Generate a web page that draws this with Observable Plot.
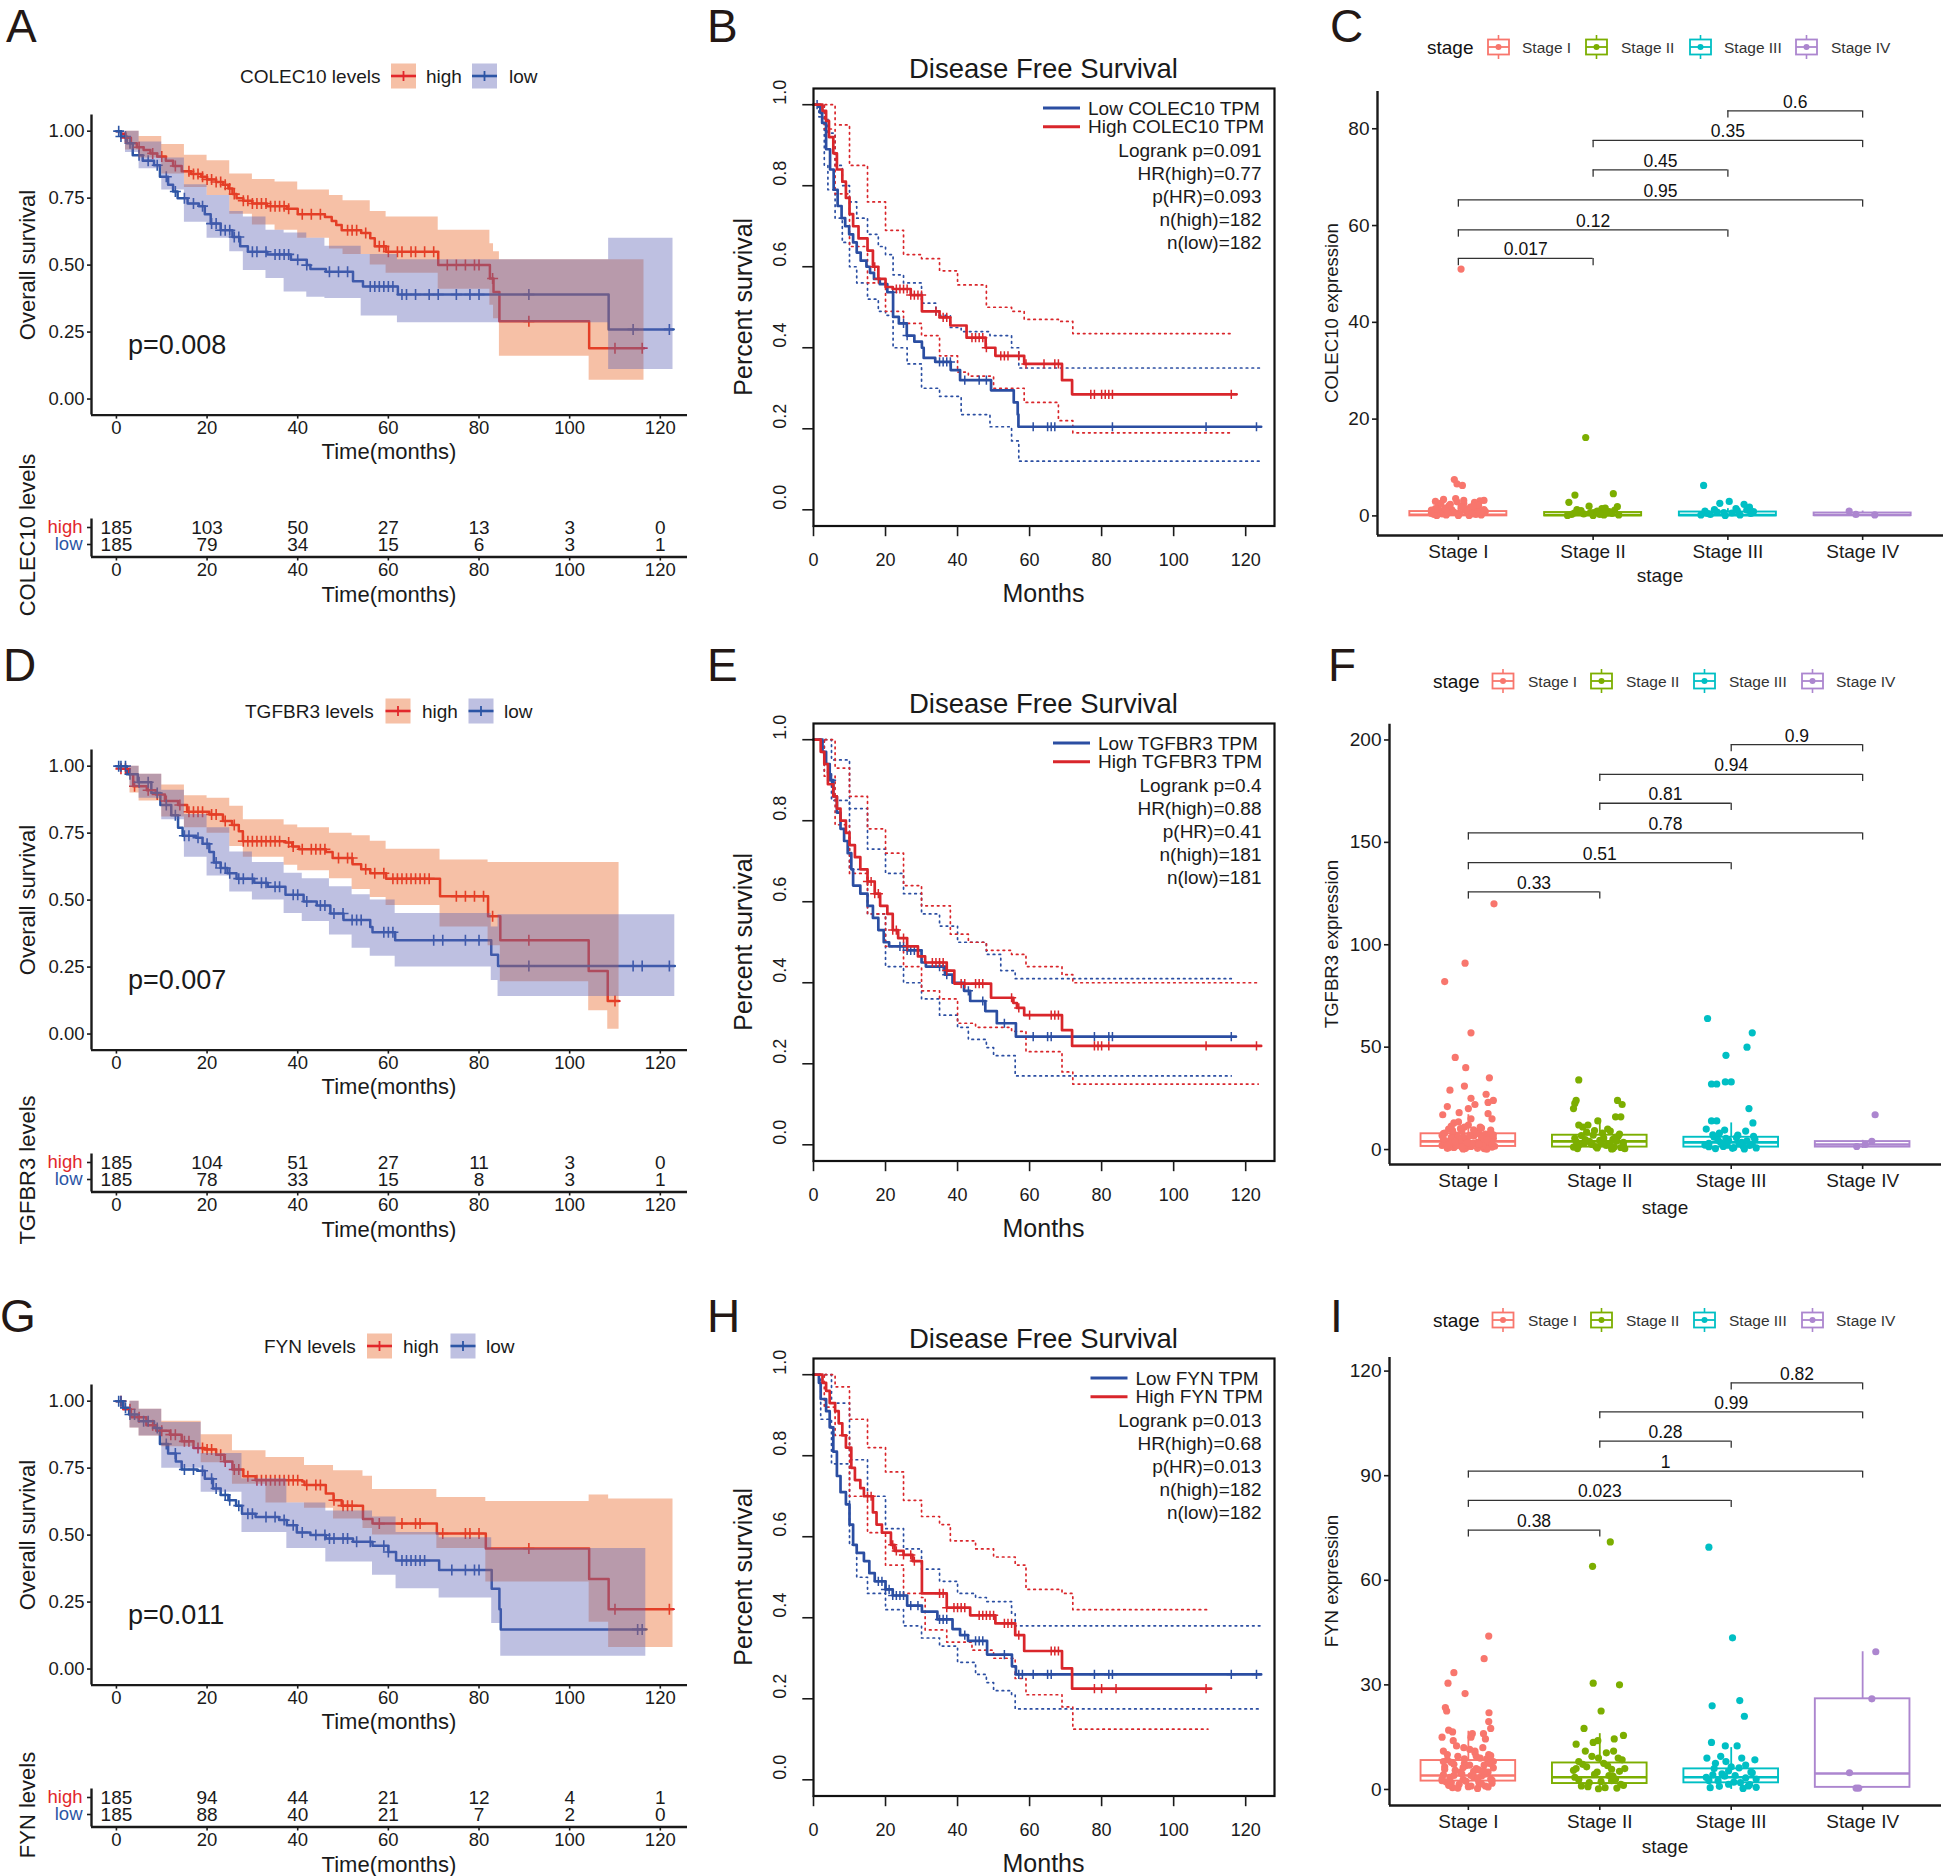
<!DOCTYPE html>
<html><head><meta charset="utf-8">
<script src="https://cdn.jsdelivr.net/npm/d3@7"></script>
<script src="https://cdn.jsdelivr.net/npm/@observablehq/plot@0.6"></script>
<style>
html,body{margin:0;padding:0;background:#fff;}
#fig{position:relative;width:1952px;height:1876px;overflow:hidden;background:#fff;font-family:"Liberation Sans",Arial,Helvetica,sans-serif;}
</style></head><body><div id="fig"></div>
<script>
// ---------------- DATA ----------------
const TIME_TICKS = [0, 20, 40, 60, 80, 100, 120];
const OS_Y_TICKS = [0, 0.25, 0.5, 0.75, 1];
const DFS_Y_TICKS = [0, 0.2, 0.4, 0.6, 0.8, 1];
const STAGES = ["Stage I", "Stage II", "Stage III", "Stage IV"];

// Panel A: COLEC10 overall survival  [month, survival]
const A_high = [[0,1],[1,0.99],[2,0.975],[3.2,0.955],[4.5,0.94],[6,0.93],[7.5,0.917],[9,0.905],[10.9,0.89],[12.5,0.87],[14.4,0.85],[16.5,0.84],[18.7,0.83],[20,0.82],[22,0.81],[23.5,0.8],[24.7,0.786],[25.6,0.765],[26.5,0.75],[28,0.74],[30,0.73],[33.2,0.72],[37.6,0.71],[40,0.69],[46,0.68],[47.5,0.665],[48.5,0.65],[49.7,0.63],[54,0.62],[56,0.6],[57,0.57],[59.5,0.55],[71,0.5],[82.4,0.45],[83.2,0.4],[84.5,0.29],[104.3,0.19],[116.4,0.19]];
const A_low = [[0,1],[1,0.98],[2.3,0.955],[3.6,0.91],[5.8,0.89],[8.3,0.873],[9.6,0.83],[11.4,0.8],[12.5,0.775],[13.5,0.75],[15.7,0.73],[18.2,0.72],[19.5,0.69],[20.8,0.655],[23,0.63],[25.6,0.605],[27.3,0.57],[29,0.55],[33.3,0.54],[38.5,0.52],[42,0.5],[42.8,0.485],[46.2,0.475],[52.2,0.44],[54.4,0.42],[62.1,0.39],[108.6,0.26],[122.8,0.26]];
// [month, lower, upper]
const A_highCI = [[0,1,1],[2,0.93,1],[5,0.9,0.98],[10,0.84,0.95],[15,0.79,0.91],[20,0.76,0.89],[25,0.69,0.84],[30,0.65,0.82],[35,0.63,0.81],[40,0.6,0.78],[47,0.56,0.76],[50,0.54,0.74],[56,0.5,0.7],[59.5,0.47,0.68],[71,0.41,0.63],[82.4,0.35,0.58],[83.2,0.3,0.55],[84.5,0.16,0.52],[104.3,0.07,0.52],[116.4,0.07,0.52]];
const A_lowCI = [[0,1,1],[2,0.92,1],[5,0.86,0.96],[10,0.78,0.9],[15,0.66,0.8],[20,0.6,0.76],[25,0.55,0.7],[28,0.48,0.68],[33,0.45,0.63],[37,0.4,0.62],[42,0.38,0.6],[46,0.375,0.57],[54,0.31,0.54],[62,0.285,0.52],[108.6,0.11,0.6],[122.8,0.11,0.6]];
const A_highCens = [2,5,8,10,13,16,17,18,19,20,21,22,23,24,25,26,28,29,30,31,32,33,34,35,36,37,38,41,43,45,51,52,53,55,58,59,60,62,63,65,66,68,70,73,75,77,79,80,83,91,110,116];
const A_lowCens = [0.5,1,2,3,5,7,9,11,13,15,17,19,21,22,23,24,25,26,27,30,31,33,35,36,37,38,40,42,47,49,51,56,57,58,59,60,61,63,64,66,69,71,75,78,80,91,114,122];
const A_riskHigh = [185,103,50,27,13,3,0];
const A_riskLow = [185,79,34,15,6,3,1];

// Panel D: TGFBR3 overall survival
const D_high = [[0,1],[1,0.99],[2.8,0.97],[3.7,0.925],[6.7,0.91],[8.7,0.894],[10.7,0.87],[13.6,0.855],[15.6,0.83],[20.5,0.82],[23.5,0.795],[25.5,0.78],[27,0.757],[27.9,0.72],[37.3,0.715],[38.8,0.7],[40.3,0.69],[46.2,0.68],[47.7,0.657],[52.1,0.634],[54,0.615],[56,0.6],[59.5,0.58],[71.4,0.514],[82,0.44],[84.7,0.35],[104.2,0.235],[108.4,0.123],[110.9,0.123]];
const D_low = [[0,1],[2.3,0.97],[4.7,0.94],[7.7,0.9],[9.7,0.855],[12.1,0.817],[13.6,0.77],[14.6,0.74],[17.6,0.733],[19,0.71],[20.5,0.68],[21.5,0.64],[23,0.62],[24.5,0.6],[26.5,0.58],[30.4,0.565],[33.4,0.55],[37.3,0.52],[41.3,0.495],[44.2,0.48],[47.2,0.45],[50.1,0.426],[56,0.4],[56.5,0.38],[61.5,0.35],[82.7,0.296],[84.2,0.254],[123.2,0.254]];
const D_highCI = [[0,1,1],[3,0.9,1],[5,0.87,0.97],[10,0.81,0.93],[15,0.77,0.89],[20,0.75,0.88],[25,0.7,0.85],[28,0.66,0.8],[37,0.63,0.78],[40,0.61,0.77],[47,0.58,0.75],[52,0.54,0.74],[56,0.51,0.72],[59.5,0.48,0.69],[71.4,0.4,0.65],[82,0.33,0.64],[84.7,0.195,0.64],[104.2,0.087,0.64],[108.4,0.018,0.64],[110.9,0.018,0.64]];
const D_lowCI = [[0,1,1],[3,0.92,1],[5,0.88,0.97],[10,0.8,0.91],[15,0.66,0.82],[20,0.59,0.77],[25,0.53,0.68],[30,0.5,0.64],[37,0.45,0.6],[41,0.42,0.58],[47,0.37,0.55],[52,0.32,0.52],[56,0.29,0.5],[61.5,0.25,0.45],[82.7,0.2,0.4],[84.2,0.14,0.445],[123.2,0.14,0.445]];
const D_highCens = [1,2,4,7,9,11,14,16,17,18,19,21,22,24,26,28,29,30,31,32,33,34,35,36,38,39,41,43,44,45,46,49,51,52,55,57,59,61,62,63,64,65,66,67,68,69,75,77,79,81,83,91,110];
const D_lowCens = [0.5,1,2,3,5,7,9,11,13,15,16,18,20,22,23,24,25,27,28,30,32,33,35,36,39,40,42,45,46,48,50,52,53,54,59,60,61,70,72,77,80,91,114,116,122];
const D_riskHigh = [185,104,51,27,11,3,0];
const D_riskLow = [185,78,33,15,8,3,1];

// Panel G: FYN overall survival
const G_high = [[0,1],[1.5,0.97],[3.2,0.94],[6.6,0.91],[8.8,0.89],[11.8,0.875],[14.4,0.85],[17,0.825],[19.5,0.82],[22,0.8],[23.8,0.775],[25.6,0.745],[28,0.72],[30.7,0.705],[41,0.7],[41.5,0.687],[46.2,0.655],[47.9,0.63],[49.7,0.61],[54.4,0.56],[56.5,0.543],[70.7,0.506],[81.5,0.45],[104.3,0.336],[108.6,0.223],[122.8,0.223]];
const G_low = [[0,1],[1.5,0.975],[2.8,0.95],[4.9,0.925],[8.3,0.9],[9.6,0.84],[11.4,0.805],[13.1,0.775],[14.4,0.745],[17.8,0.74],[19.5,0.71],[21.3,0.674],[23,0.65],[24.7,0.63],[26.4,0.61],[27.7,0.58],[30.7,0.568],[35.9,0.556],[37.6,0.537],[39.8,0.51],[42.8,0.5],[46.2,0.487],[52.2,0.475],[56.5,0.46],[60,0.437],[61.7,0.405],[71.2,0.37],[82.8,0.3],[84.5,0.223],[84.8,0.148],[116.8,0.148]];
const G_highCI = [[0,1,1],[3,0.9,1],[5,0.87,0.97],[10,0.83,0.925],[18.7,0.77,0.875],[25.6,0.69,0.815],[33,0.62,0.79],[41.5,0.6,0.76],[47.9,0.56,0.74],[54.4,0.525,0.72],[56.5,0.5,0.67],[70.7,0.45,0.64],[81.5,0.325,0.625],[104.3,0.175,0.65],[108.6,0.08,0.635],[122.8,0.08,0.635]];
const G_lowCI = [[0,1,1],[3,0.9,1],[5,0.87,0.97],[10,0.75,0.92],[18.7,0.66,0.805],[27.7,0.51,0.71],[37.6,0.45,0.62],[46.2,0.4,0.59],[56.5,0.35,0.568],[61.7,0.3,0.51],[71.2,0.265,0.49],[82.8,0.17,0.45],[84.8,0.048,0.45],[116.8,0.048,0.45]];
const G_highCens = [1,3,5,8,10,12,13,15,16,18,19,20,21,23,24,26,27,29,31,32,33,34,35,36,37,38,39,40,42,44,45,48,50,51,52,58,63,66,67,72,77,78,80,91,110,122];
const G_lowCens = [0.5,1,2,3,4,6,7,9,11,13,15,17,19,21,22,24,25,27,29,30,33,35,37,39,41,44,46,47,48,50,51,53,56,59,60,63,64,65,66,67,68,74,77,79,80,115,116];
const G_riskHigh = [185,94,44,21,12,4,1];
const G_riskLow = [185,88,40,21,7,2,0];

// Panel B: COLEC10 disease free survival (GEPIA)
const B_low = [[0,1],[1.4,0.995],[1.9,0.98],[2.4,0.955],[3.5,0.89],[4.6,0.84],[5.6,0.79],[6.7,0.75],[7.8,0.72],[8.8,0.7],[9.9,0.68],[11,0.66],[12,0.635],[13.1,0.615],[14.7,0.6],[15.7,0.585],[16.8,0.57],[18.4,0.557],[20.5,0.537],[22.1,0.476],[23.7,0.46],[25.9,0.43],[28,0.415],[30.1,0.4],[30.6,0.375],[33.8,0.365],[38.1,0.345],[40.7,0.32],[49.3,0.295],[55.6,0.265],[56.7,0.235],[56.9,0.205],[124.3,0.205]];
const B_high = [[0,1],[2.5,0.985],[3.5,0.96],[4.3,0.92],[5.5,0.88],[6.5,0.84],[8,0.81],[9,0.77],[10,0.73],[11,0.7],[12.5,0.67],[15,0.64],[16.5,0.6],[18,0.57],[20,0.55],[22,0.545],[27,0.53],[30.1,0.49],[35,0.475],[38,0.455],[42.5,0.425],[47.8,0.4],[50.5,0.38],[58.5,0.36],[69,0.32],[71.8,0.285],[117.5,0.285]];
const B_lowLo = [[0,1],[1.5,0.97],[3,0.85],[4,0.79],[6,0.72],[8,0.66],[10,0.6],[12,0.56],[15,0.52],[18,0.49],[20,0.48],[22.1,0.4],[26,0.36],[30,0.3],[35,0.28],[41,0.235],[49,0.205],[55,0.17],[57,0.12],[124,0.12]];
const B_lowHi = [[0,1],[3,0.97],[4,0.93],[6,0.85],[8,0.8],[10,0.76],[12,0.72],[15,0.68],[18,0.65],[20,0.63],[22.1,0.58],[25,0.56],[30,0.51],[34,0.48],[38,0.45],[41,0.44],[49,0.43],[55,0.4],[57,0.35],[124,0.35]];
const B_highLo = [[0,1],[3,0.94],[6,0.78],[10,0.65],[15,0.56],[20,0.49],[25,0.46],[30,0.43],[35,0.38],[40,0.34],[43,0.33],[50,0.3],[58.5,0.265],[68,0.22],[72,0.19],[116.5,0.19]];
const B_highHi = [[0,1],[6,0.95],[10,0.85],[15,0.76],[20,0.69],[25,0.63],[30,0.62],[35,0.59],[40,0.555],[48,0.5],[55,0.49],[58.5,0.47],[68,0.465],[72,0.435],[116.5,0.435]];
const B_lowCens = [1,22,25,26,35,36,37,38,42,46,48,61,65,66,67,83,109,123];
const B_highCens = [17,18,23,24,25,26,27,28,29,30,34,36,37,44,45,46,47,48,52,53,54,57,59,64,67,68,77,78,80,81,82,83,116];
const B_stats = ["Logrank p=0.091","HR(high)=0.77","p(HR)=0.093","n(high)=182","n(low)=182"];

// Panel E: TGFBR3 disease free survival
const E_low = [[0,1],[2.5,0.97],[3.5,0.94],[4.5,0.9],[5.5,0.86],[6.5,0.82],[7.5,0.78],[8.5,0.75],[9.5,0.72],[10.5,0.68],[11,0.64],[13,0.62],[15,0.59],[16.5,0.56],[18,0.53],[19.5,0.5],[21,0.49],[26,0.48],[30,0.45],[31.2,0.44],[36.5,0.42],[38.6,0.4],[41.8,0.38],[43.5,0.355],[47.7,0.33],[50.9,0.3],[56.2,0.267],[117.3,0.267]];
const E_high = [[0,1],[2,0.97],[3,0.94],[4,0.89],[5.5,0.86],[6.5,0.83],[7.5,0.8],[9,0.77],[10,0.74],[11.5,0.71],[13,0.68],[15,0.65],[17,0.62],[18.5,0.59],[20.5,0.57],[22,0.53],[23.5,0.51],[26,0.49],[29,0.465],[31,0.45],[37,0.43],[39.1,0.398],[49.3,0.363],[55.5,0.35],[56.5,0.338],[58.5,0.32],[69,0.283],[71.8,0.244],[124.3,0.244]];
const E_lowLo = [[0,1],[3,0.92],[5,0.85],[10,0.68],[15,0.57],[20,0.44],[25,0.4],[30,0.36],[35,0.32],[40,0.29],[43,0.26],[48,0.24],[50,0.22],[56,0.17],[116,0.17]];
const E_lowHi = [[0,1],[5,0.95],[10,0.83],[15,0.73],[20,0.67],[25,0.62],[30,0.57],[35,0.54],[40,0.5],[48,0.47],[52,0.43],[56,0.41],[116,0.41]];
const E_highLo = [[0,1],[3,0.91],[6,0.79],[10,0.67],[15,0.57],[20,0.49],[25,0.44],[30,0.38],[35,0.36],[40,0.3],[45,0.29],[55,0.28],[59,0.23],[69,0.18],[72,0.15],[123.5,0.15]];
const E_highHi = [[0,1],[6,0.93],[10,0.86],[15,0.78],[20,0.72],[25,0.64],[30,0.59],[38,0.52],[43,0.5],[48,0.48],[55,0.47],[59,0.44],[69,0.42],[72,0.4],[123.5,0.4]];
const E_lowCens = [5,24,25,26,27,28,29,35,36,37,43,47,53,61,65,66,78,82,83,116];
const E_highCens = [15,16,17,18,22,23,25,26,33,34,35,36,37,41,42,45,46,47,55,57,60,66,67,68,78,79,80,82,109,123];
const E_stats = ["Logrank p=0.4","HR(high)=0.88","p(HR)=0.41","n(high)=181","n(low)=181"];

// Panel H: FYN disease free survival
const H_low = [[0,1],[1.5,0.98],[2,0.94],[3.5,0.91],[4.5,0.87],[5.5,0.81],[6.5,0.75],[7.5,0.71],[9,0.68],[10,0.63],[11,0.58],[12,0.56],[14,0.54],[15.5,0.51],[17,0.49],[20,0.47],[22,0.455],[26,0.43],[30.1,0.415],[34.4,0.396],[38.6,0.372],[40.7,0.357],[42.9,0.343],[48.2,0.309],[55.1,0.28],[56.2,0.26],[124.3,0.26]];
const H_high = [[0,1],[2.5,0.98],[3.5,0.96],[4.5,0.93],[6,0.91],[7,0.88],[8,0.85],[9,0.82],[10.5,0.77],[11.5,0.74],[13,0.72],[14,0.7],[16.5,0.66],[17.5,0.63],[19,0.61],[21.5,0.58],[22.5,0.565],[25,0.555],[27.5,0.54],[30.1,0.46],[37,0.425],[43.5,0.406],[50.5,0.386],[56,0.357],[58.5,0.318],[69,0.275],[71.8,0.225],[110.4,0.225]];
const H_lowLo = [[0,1],[2,0.89],[5,0.78],[10,0.58],[12,0.5],[15,0.46],[20,0.42],[25,0.38],[30,0.35],[35,0.33],[40,0.29],[45,0.26],[48,0.24],[50,0.22],[55,0.21],[56,0.175],[124,0.175]];
const H_lowHi = [[0,1],[5,0.93],[10,0.79],[15,0.7],[20,0.62],[25,0.57],[30,0.52],[35,0.49],[40,0.46],[45,0.45],[48,0.44],[55,0.41],[56,0.38],[124,0.38]];
const H_highLo = [[0,1],[3,0.92],[6,0.85],[10,0.7],[15,0.61],[20,0.53],[25,0.46],[30,0.45],[31,0.37],[37,0.34],[44,0.32],[50,0.3],[56,0.25],[59,0.21],[69,0.18],[72,0.125],[109.5,0.125]];
const H_highHi = [[0,1],[6,0.97],[10,0.89],[15,0.82],[20,0.76],[25,0.69],[30,0.65],[35,0.63],[38,0.59],[45,0.57],[50,0.55],[56,0.53],[59,0.47],[69,0.46],[72,0.42],[109.5,0.42]];
const H_lowCens = [18,19,20,21,22,23,24,25,27,29,35,36,37,42,45,46,47,53,57,58,61,65,66,78,82,83,116,123];
const H_highCens = [15,16,22,23,25,27,28,35,36,37,39,40,41,42,46,47,48,49,50,53,54,55,57,66,67,68,78,80,84,109];
const H_stats = ["Logrank p=0.013","HR(high)=0.68","p(HR)=0.013","n(high)=182","n(low)=182"];

// Panel C: COLEC10 expression by stage. boxes: [q1, median, q3, whiskerLow, whiskerHigh]; points: [jitter offset, value]
const C_boxes = [[0,0.25,0.9,0,1.6],[0,0.2,0.7,0,1.3],[0,0.2,0.8,0,1.5],[0.05,0.2,0.6,0,1]];
const C_pts1 = [[0.02,51],[-0.03,7.5],[-0.01,6.6],[0.03,6.3],[-0.11,3.4],[-0.02,3.6],[-0.17,3],[0.16,3.1],[0.19,3.2],[0.04,2.6],[-0.07,2.1],[0.09,1.8],[0.14,1.6],[-0.14,1.1],[-0.19,0.8],[0.11,1.2],[-0.05,1.3],[0.18,0.6],[-0.12,0.4],[0.06,0.9],[-0.09,0.2],[0.01,0.5],[0.13,0.3],[-0.16,0.1],[0.08,0.1],[-0.03,0.7],[0.17,0.2],[-0.2,0.5],[0.2,0.9],[-0.06,2.4],[0.05,1.5],[-0.15,1.9],[0.12,2.8],[-0.18,0.3],[0,0.1],[-0.1,1.6],[0.07,1.1],[-0.04,0.9],[0.15,2.2],[-0.13,2.6],[0.02,1.9],[0.1,0.4],[-0.08,0.6],[0.19,1.3],[-0.17,1.5],[0.04,3.2],[-0.01,2.9],[0.11,2],[-0.2,1.2],[0.16,0.8]];
const C_pts2 = [[-0.055,16.2],[0.15,4.6],[-0.135,4.3],[-0.18,2.8],[-0.03,2],[0.065,1.5],[0.16,1.2],[0.03,1],[-0.1,0.8],[0.11,0.6],[-0.16,0.3],[0.19,0.2],[-0.07,0.4],[0,0.1],[0.08,0.2],[-0.19,0.1],[0.14,0.5],[-0.12,1.3],[0.05,0.3],[-0.09,1.1],[0.12,0.9],[-0.02,0.7],[0.18,1.9],[-0.14,0.6],[0.09,1.6]];
const C_pts3 = [[-0.18,6.3],[0.01,3],[-0.06,2.6],[0.12,2.4],[0.06,1.5],[-0.17,1],[-0.08,0.8],[0.17,0.5],[-0.13,0.3],[0.09,0.2],[0.03,0.6],[-0.02,0.1],[0.19,0.9],[-0.2,0.2],[0.14,1.2],[-0.1,1.3],[0.07,1.1],[-0.03,0.7],[0.16,1.8],[-0.15,0.5]];
const C_pts4 = [[-0.1,1],[-0.05,0.3],[0.09,0.2]];
const C_brackets = [[1,2,53.2,"0.017"],[1,3,59.1,"0.12"],[1,4,65.3,"0.95"],[2,3,71.5,"0.45"],[2,4,77.6,"0.35"],[3,4,83.7,"0.6"]];
const C_yTicks = [0,20,40,60,80];

// Panel F: TGFBR3 expression by stage
const F_boxes = [[1.5,4,7.7,0,17],[1.2,4,7,0,15],[1.2,3.5,6,0,13],[1.2,2.5,3.9,0.5,4.5]];
const F_pts1 = [[0.195,120],[-0.025,91],[-0.18,82],[0.02,57],[-0.1,45],[-0.02,40],[0.16,35],[-0.03,31],[-0.14,29],[0.135,27],[0.02,25],[0.19,24],[0.15,23],[0.05,22],[-0.16,21],[0,20],[-0.07,18],[-0.195,17],[0.15,17.5],[0.18,15],[0.02,15],[-0.11,13],[-0.075,13.5],[0,12],[-0.03,11],[0.1,10.5],[-0.15,10],[0.17,9.5],[-0.05,9],[0.08,8.5],[-0.18,8],[0.13,7.5],[-0.09,7],[0.04,6.5],[-0.13,6],[0.19,5.5],[-0.01,5],[0.11,4.5],[-0.17,4],[0.07,3.5],[-0.06,3],[0.15,2.5],[-0.2,2],[0.02,1.5],[-0.11,1],[0.12,0.5],[-0.04,0.3],[0.18,1.2],[-0.14,2.8],[0.09,3.8],[-0.08,5.8],[0.16,6.8],[-0.19,7.8],[0.05,8.8],[-0.02,0.8],[0.14,0.2],[-0.16,0.6],[0.01,2.2],[0.1,6],[-0.12,9.2],[0.06,7.8],[-0.04,6.2],[0.15,4.2],[-0.18,3.2],[0.03,2.8],[-0.09,1.8],[0.2,1.6],[-0.15,0.9],[0.07,0.6],[-0.01,3.3],[0.12,5.2],[-0.07,4.8],[0.17,8.2],[-0.2,6.8],[0.04,9.6],[-0.13,11.5],[0.09,11],[-0.06,10.2],[0.18,3.1],[-0.16,2.4],[0.11,1.9],[-0.03,0.4],[0.14,4.9],[-0.1,3.9],[0.01,6.9],[0.19,7.2],[-0.19,5.1],[0.08,2.6],[-0.05,1.2]];
const F_pts2 = [[-0.16,34],[-0.18,24],[-0.19,22.5],[-0.2,20],[0.135,24],[0.17,22],[0.12,16],[0.16,16],[-0.015,14],[-0.16,12],[-0.09,12],[-0.13,11],[0.08,9],[0.02,8],[-0.05,7],[0.14,6.5],[-0.19,5.5],[0.1,5],[-0.08,4],[0.18,3.5],[-0.12,3],[0.05,2],[-0.03,1.5],[0.16,1],[-0.17,0.5],[0.09,0.3],[-0.06,2.5],[0.12,6],[0,4.5],[-0.1,8.5],[0.19,0.4],[-0.2,1.2],[0.06,10],[-0.14,6.8],[0.03,5.6],[0.13,4.1],[-0.07,3.3],[0.08,2.7],[-0.16,2.1],[0.18,1.8],[-0.02,0.8],[0.1,0.5],[-0.11,4.8],[0.15,7.6],[-0.04,9.3],[0.01,2.9],[-0.18,3.9],[0.11,1.3]];
const F_pts3 = [[-0.18,64],[0.16,57],[0.12,50],[-0.04,46],[-0.15,32],[-0.11,32],[-0.045,33],[0,33],[0.135,20],[-0.15,14],[-0.11,14],[0.165,13],[-0.19,10],[0.11,9],[-0.09,8],[0.05,7],[-0.13,6],[0.18,5],[-0.02,4.5],[0.08,3.5],[-0.17,3],[0.14,2],[-0.06,1.5],[0.02,1],[-0.12,0.5],[0.19,0.8],[-0.2,2.2],[0.1,0.3],[-0.04,5.5],[0.06,2.8],[-0.14,7.2],[0.04,5.8],[0.12,4.2],[-0.08,3.4],[0.16,2.6],[-0.03,2.1],[0.09,1.7],[-0.17,1.4],[0.01,0.6],[-0.1,4.6],[0.17,6.4],[-0.05,9.5],[0.07,3]];
const F_pts4 = [[0.095,17],[0.07,4],[-0.045,1.5],[0.02,2.5]];
const F_brackets = [[1,2,125.8,"0.33"],[1,3,140.1,"0.51"],[1,4,154.6,"0.78"],[2,3,169.1,"0.81"],[2,4,183.2,"0.94"],[3,4,197.7,"0.9"]];
const F_yTicks = [0,50,100,150,200];

// Panel I: FYN expression by stage
const I_boxes = [[2.4,4,8.3,0,16.7],[1.7,3.5,7.6,0,16],[1.9,3.5,5.9,0,12],[0.6,4.6,26,0.4,39.5]];
const I_pts1 = [[0.155,44],[0.12,37.5],[-0.11,33.5],[-0.155,30.5],[-0.025,27.5],[-0.175,23.5],[-0.165,22.5],[0.157,22],[0.155,19.5],[0.17,17.5],[-0.15,17],[-0.12,16.5],[0.03,16],[0.115,16],[-0.2,15],[0.02,15],[0.13,14.5],[-0.115,14],[-0.035,12],[0.01,11.5],[-0.19,11],[0.05,10.5],[0.155,10],[-0.08,9.5],[0.09,9],[-0.16,8.5],[0.19,8],[-0.03,7.5],[0.12,7],[-0.18,6.5],[0.06,6],[-0.1,5.5],[0.15,5],[-0.05,4.5],[0.02,4],[-0.14,3.5],[0.17,3],[-0.2,2.5],[0.08,2],[-0.07,1.5],[0.13,1],[-0.12,0.5],[0,0.8],[0.18,1.8],[-0.17,2.2],[0.1,3.8],[-0.02,6.8],[0.14,8.8],[-0.11,7.2],[0.04,5.2],[-0.19,4.2],[0.07,0.3],[-0.04,2.8],[-0.09,12.5],[0.11,12],[-0.16,10],[0.06,9.5],[-0.03,8.8],[0.16,7.5],[-0.13,7.8],[0.01,7],[0.19,6.2],[-0.18,5.8],[0.08,5.6],[-0.06,5],[0.13,4.4],[-0.11,4],[0.04,3.6],[-0.2,3],[0.18,2.6],[-0.02,2.4],[0.1,1.6],[-0.15,1.2],[0.15,0.7],[-0.08,0.4],[0.02,1],[-0.13,2],[0.07,3.1],[0.12,5.3],[-0.04,6.3],[0.17,9.7],[-0.19,8],[0.05,11]];
const I_pts2 = [[0.08,71],[-0.055,64],[-0.05,30.5],[0.15,30],[0.01,22.5],[-0.12,17.5],[0.18,15.5],[0.11,14.5],[-0.015,14],[-0.05,13.5],[-0.18,13],[0.105,11],[-0.06,9.5],[0.14,9],[-0.16,8],[0.03,7.5],[-0.1,6.5],[0.19,6],[-0.02,5],[0.07,4],[-0.19,3.5],[0.12,3],[-0.08,2],[0.16,1.5],[-0.14,1],[0.04,0.5],[-0.01,0.2],[0.09,2.5],[-0.2,5.5],[0.17,8.5],[-0.11,11],[-0.13,7.2],[0.06,6.8],[0.15,5.2],[-0.04,4.3],[0.1,3.8],[-0.16,2.8],[0.01,2.3],[0.18,1.2],[-0.09,0.8],[0.13,0.4],[-0.01,9],[0.05,10.5],[-0.18,6],[0.09,5.8]];
const I_pts3 = [[-0.17,69.5],[0.01,43.5],[0.065,25.5],[-0.145,24],[0.1,21],[-0.15,13.5],[-0.045,12.5],[0.045,12.5],[-0.185,9],[0.18,8.5],[-0.04,8],[0.11,7],[-0.13,6],[0.15,5],[-0.07,4.5],[0.03,4],[-0.19,3.5],[0.19,3],[-0.1,2.5],[0.07,2],[-0.02,1.5],[0.13,1],[-0.16,0.5],[0,6.5],[0.09,0.3],[-0.08,9.5],[-0.12,7.5],[0.06,6.2],[0.16,4.8],[-0.05,3.8],[0.11,3.3],[-0.17,2.6],[0.02,2.1],[0.14,1.4],[-0.09,0.9],[0.19,0.6],[-0.02,5.3],[0.08,9],[-0.14,4.2]];
const I_pts4 = [[0.1,39.5],[0.07,26],[-0.1,4.8],[-0.05,0.4],[-0.03,0.4]];
const I_brackets = [[1,2,74.4,"0.38"],[1,3,82.9,"0.023"],[1,4,91.3,"1"],[2,3,99.9,"0.28"],[2,4,108.3,"0.99"],[3,4,116.6,"0.82"]];
const I_yTicks = [0,30,60,90,120];

// ---------------- STYLE ----------------
const FONT = '"Liberation Sans", Arial, Helvetica, sans-serif';
const INK = "#1a1a1a";
const KM = {red: "#E2272B", blue: "#2C55A5", highFill: "#E86120", lowFill: "#5C61B4", highKey: "#F6C0A6", lowKey: "#BEC0E1"};
const GP = {red: "#D9262B", blue: "#2B4EA2"};
const STAGE_COLORS = ["#F8766D", "#7CAE00", "#00BFC4", "#AC86CF"];

const fig = document.getElementById("fig");
function place(svg, left, top) {
  svg.style.position = "absolute";
  svg.style.left = left + "px";
  svg.style.top = top + "px";
  svg.style.maxWidth = "none";
  fig.appendChild(svg);
}
const plusSym = {draw(ctx, size) { const r = Math.sqrt(size / Math.PI); ctx.moveTo(-r, 0); ctx.lineTo(r, 0); ctx.moveTo(0, -r); ctx.lineTo(0, r); }};
const stepAt = (curve, t) => { let s = curve[0][1]; for (const [ti, si] of curve) { if (ti <= t) s = si; else break; } return s; };
const pts = arr => arr.map(([t, s]) => ({t, s}));
const band = arr => arr.map(([t, lo, hi]) => ({t, lo, hi}));
const cens = (times, curve) => times.map(t => ({t, s: stepAt(curve, t)}));
const baseStyle = size => ({fontFamily: FONT, fontSize: size + "px", color: INK, background: "transparent", overflow: "visible"});

// ---------------- PANELS ----------------
function survPanel(c, top) {
  const xd = [-5.5, 126], yd = [-0.06, 1.06];
  const main = Plot.plot({
    width: 700, height: 470, marginLeft: 91, marginRight: 13, marginTop: 114.6, marginBottom: 55.4,
    x: {domain: xd}, y: {domain: yd}, style: baseStyle(18.5),
    marks: [
      Plot.line(pts(c.high), {x: "t", y: "s", curve: "step-after", stroke: KM.red, strokeWidth: 2.5}),
      Plot.line(pts(c.low), {x: "t", y: "s", curve: "step-after", stroke: KM.blue, strokeWidth: 2.5}),
      Plot.dot(cens(c.highCens, c.high), {x: "t", y: "s", symbol: plusSym, r: 5.5, fill: "none", stroke: KM.red, strokeWidth: 1.6}),
      Plot.dot(cens(c.lowCens, c.low), {x: "t", y: "s", symbol: plusSym, r: 5.5, fill: "none", stroke: KM.blue, strokeWidth: 1.6}),
      Plot.areaY(band(c.highCI), {x: "t", y1: "lo", y2: "hi", curve: "step-after", fill: KM.highFill, fillOpacity: 0.4}),
      Plot.areaY(band(c.lowCI), {x: "t", y1: "lo", y2: "hi", curve: "step-after", fill: KM.lowFill, fillOpacity: 0.4}),
      Plot.ruleX([xd[0]], {stroke: INK, strokeWidth: 2.4}),
      Plot.ruleY([yd[0]], {stroke: INK, strokeWidth: 2.4}),
      Plot.axisX({ticks: TIME_TICKS, tickSize: 4, tickPadding: 2, tickFormat: d => String(d), label: null, strokeWidth: 1.6}),
      Plot.axisY({ticks: OS_Y_TICKS, tickSize: 4, tickPadding: 3, tickFormat: d3.format(".2f"), label: null, strokeWidth: 1.6})
    ]
  });
  place(main, 0, top);
  const rt = Plot.plot({
    width: 700, height: 110, marginLeft: 91, marginRight: 13, marginTop: 18.5, marginBottom: 53.5,
    x: {domain: xd}, y: {domain: [0.5, 2.735], reverse: true}, style: baseStyle(18.5),
    marks: [
      Plot.text(TIME_TICKS, {x: d => d, y: () => 1, text: (d, i) => String(c.riskHigh[i]), fontSize: 19, fill: INK}),
      Plot.text(TIME_TICKS, {x: d => d, y: () => 2, text: (d, i) => String(c.riskLow[i]), fontSize: 19, fill: INK}),
      Plot.text(["high"], {x: () => xd[0], y: () => 1, text: d => d, textAnchor: "end", dx: -9, fontSize: 18.5, fill: KM.red}),
      Plot.text(["low"], {x: () => xd[0], y: () => 2, text: d => d, textAnchor: "end", dx: -9, fontSize: 18.5, fill: KM.blue}),
      Plot.ruleX([xd[0]], {stroke: INK, strokeWidth: 2.4}),
      Plot.ruleY([2.735], {stroke: INK, strokeWidth: 2.4}),
      Plot.axisX({ticks: TIME_TICKS, tickSize: 4, tickPadding: 2, tickFormat: d => String(d), label: null, strokeWidth: 1.6}),
      Plot.axisY({ticks: [1, 2], tickSize: 4, tickFormat: () => "", label: null, strokeWidth: 1.6})
    ]
  });
  place(rt, 0, top + 500);
}

function gepiaPanel(c, top) {
  const xd = [0, 128], yd = [-0.04, 1.04];
  const dotted = (arr, col) => Plot.line(pts(arr), {x: "t", y: "s", curve: "step-after", stroke: col, strokeWidth: 1.7, strokeDasharray: "1.6,4.2"});
  const svg = Plot.plot({
    width: 600, height: 640, marginLeft: 113, marginRight: 26, marginTop: 88, marginBottom: 114.5,
    x: {domain: xd}, y: {domain: yd}, style: baseStyle(18),
    marks: [
      dotted(c.lowLo, GP.blue), dotted(c.lowHi, GP.blue),
      dotted(c.highLo, GP.red), dotted(c.highHi, GP.red),
      Plot.line(pts(c.low), {x: "t", y: "s", curve: "step-after", stroke: GP.blue, strokeWidth: 2.7}),
      Plot.dot(cens(c.lowCens, c.low), {x: "t", y: "s", symbol: plusSym, r: 4.6, fill: "none", stroke: GP.blue, strokeWidth: 1.5}),
      Plot.line(pts(c.high), {x: "t", y: "s", curve: "step-after", stroke: GP.red, strokeWidth: 2.7}),
      Plot.dot(cens(c.highCens, c.high), {x: "t", y: "s", symbol: plusSym, r: 4.6, fill: "none", stroke: GP.red, strokeWidth: 1.5}),
      Plot.frame({stroke: "#111", strokeWidth: 2.2}),
      Plot.axisX({ticks: TIME_TICKS, tickSize: 10.7, tickPadding: 17, tickFormat: d => String(d), label: null, strokeWidth: 1.6}),
      Plot.axisY({ticks: DFS_Y_TICKS, tickSize: 10.7, tickFormat: () => "", label: null, strokeWidth: 1.6}),
      Plot.text(DFS_Y_TICKS, {y: d => d, frameAnchor: "left", dx: -33, rotate: -90, text: d => d.toFixed(1), fontSize: 18, fill: INK})
    ]
  });
  place(svg, 700, top);
}

function boxPanel(c, top, g) {
  const W = 0.36;
  const boxes = c.boxes.map(([q1, med, q3, wl, wh], i) => ({i: i + 1, q1, med, q3, wl, wh, col: STAGE_COLORS[i]}));
  const dots = c.points.flatMap((arr, i) => arr.map(([o, v]) => ({x: i + 1 + o, v, col: STAGE_COLORS[i]})));
  const br = c.brackets.map(([a, b, y, lab]) => ({a, b, y, lab, lo: y - c.tip}));
  const svg = Plot.plot({
    width: 652, height: g.h, marginLeft: g.ml, marginRight: g.mr, marginTop: g.mt, marginBottom: g.h - g.axisY,
    x: {domain: [0.4, 4.6]}, y: {domain: g.yd}, color: {type: "identity"}, style: baseStyle(19),
    marks: [
      Plot.ruleX(boxes, {x: "i", y1: "q3", y2: "wh", stroke: "col", strokeWidth: 1.8}),
      Plot.ruleX(boxes, {x: "i", y1: "wl", y2: "q1", stroke: "col", strokeWidth: 1.8}),
      Plot.rect(boxes, {x1: d => d.i - W, x2: d => d.i + W, y1: "q1", y2: "q3", fill: "white", stroke: "col", strokeWidth: 1.9}),
      Plot.ruleY(boxes, {y: "med", x1: d => d.i - W, x2: d => d.i + W, stroke: "col", strokeWidth: 2.6}),
      Plot.dot(dots, {x: "x", y: "v", fill: "col", r: 3.6}),
      Plot.ruleY(br, {y: "y", x1: "a", x2: "b", stroke: "#333", strokeWidth: 1.3}),
      Plot.ruleX(br, {x: "a", y1: "lo", y2: "y", stroke: "#333", strokeWidth: 1.3}),
      Plot.ruleX(br, {x: "b", y1: "lo", y2: "y", stroke: "#333", strokeWidth: 1.3}),
      Plot.text(br, {x: d => (d.a + d.b) / 2, y: "y", text: "lab", lineAnchor: "bottom", dy: -3, fontSize: 17.5, fill: "#111"}),
      Plot.ruleX([0.4], {stroke: INK, strokeWidth: 2.4}),
      Plot.ruleY([g.yd[0]], {stroke: INK, strokeWidth: 2.4}),
      Plot.axisX({ticks: [1, 2, 3, 4], tickFormat: i => STAGES[i - 1], tickSize: 5, tickPadding: 4, label: null, strokeWidth: 1.6}),
      Plot.axisY({ticks: c.yTicks, tickSize: 5, tickPadding: 3, tickFormat: d => String(d), label: null, strokeWidth: 1.6})
    ]
  });
  place(svg, 1300, top);
}

// ---------------- BUILD ----------------
survPanel({high: A_high, low: A_low, highCI: A_highCI, lowCI: A_lowCI, highCens: A_highCens, lowCens: A_lowCens, riskHigh: A_riskHigh, riskLow: A_riskLow}, 0);
survPanel({high: D_high, low: D_low, highCI: D_highCI, lowCI: D_lowCI, highCens: D_highCens, lowCens: D_lowCens, riskHigh: D_riskHigh, riskLow: D_riskLow}, 635);
survPanel({high: G_high, low: G_low, highCI: G_highCI, lowCI: G_lowCI, highCens: G_highCens, lowCens: G_lowCens, riskHigh: G_riskHigh, riskLow: G_riskLow}, 1270);

gepiaPanel({low: B_low, high: B_high, lowLo: B_lowLo, lowHi: B_lowHi, highLo: B_highLo, highHi: B_highHi, lowCens: B_lowCens, highCens: B_highCens}, 0);
gepiaPanel({low: E_low, high: E_high, lowLo: E_lowLo, lowHi: E_lowHi, highLo: E_highLo, highHi: E_highHi, lowCens: E_lowCens, highCens: E_highCens}, 635);
gepiaPanel({low: H_low, high: H_high, lowLo: H_lowLo, lowHi: H_lowHi, highLo: H_highLo, highHi: H_highHi, lowCens: H_lowCens, highCens: H_highCens}, 1270);

boxPanel({boxes: C_boxes, points: [C_pts1, C_pts2, C_pts3, C_pts4], brackets: C_brackets, tip: 1.5, yTicks: C_yTicks}, 0,
  {h: 600, ml: 77, mr: 9, mt: 91, axisY: 535, yd: [-4.05, 87.7]});
boxPanel({boxes: F_boxes, points: [F_pts1, F_pts2, F_pts3, F_pts4], brackets: F_brackets, tip: 3.5, yTicks: F_yTicks}, 635,
  {h: 600, ml: 89, mr: 11, mt: 88.7, axisY: 529, yd: [-7.3, 207.7]});
boxPanel({boxes: I_boxes, points: [I_pts1, I_pts2, I_pts3, I_pts4], brackets: I_brackets, tip: 2, yTicks: I_yTicks}, 1270,
  {h: 606, ml: 89, mr: 11, mt: 87, axisY: 535, yd: [-4.6, 123.9]});

// ---------------- ANNOTATIONS ----------------
const ov = d3.create("svg").attr("width", 1952).attr("height", 1876)
  .style("position", "absolute").style("left", "0px").style("top", "0px")
  .attr("font-family", FONT);
function T(x, y, s, o = {}) {
  const t = ov.append("text").attr("x", x).attr("y", y).text(s)
    .attr("font-size", o.size || 18).attr("fill", o.fill || INK)
    .attr("text-anchor", o.anchor || "start")
    .attr("dominant-baseline", o.base || "central");
  if (o.rotate) t.attr("transform", `rotate(${o.rotate},${x},${y})`);
  if (o.weight) t.attr("font-weight", o.weight);
  return t;
}
// panel letters
[["A", 6, 42], ["B", 707, 42], ["C", 1330, 42], ["D", 3, 681], ["E", 707, 681], ["F", 1328, 681], ["G", 0, 1332], ["H", 707, 1332], ["I", 1330, 1332]]
  .forEach(([s, x, y]) => T(x, y, s, {size: 46, base: "auto", fill: "#231815"}));

// survival (ggsurvplot) annotations
[{top: 0, gene: "COLEC10", leg: [240, 391, 426, 472, 509], p: "p=0.008"},
 {top: 635, gene: "TGFBR3", leg: [245, 385.5, 422, 468.5, 504], p: "p=0.007"},
 {top: 1270, gene: "FYN", leg: [264, 367, 403, 450.5, 486], p: "p=0.011"}].forEach(r => {
  const ly = 76 + r.top;
  T(r.leg[0], ly, r.gene + " levels", {size: 19});
  [[r.leg[1], KM.highKey, KM.red], [r.leg[3], KM.lowKey, KM.blue]].forEach(([x, fill, col]) => {
    ov.append("rect").attr("x", x).attr("y", ly - 12.5).attr("width", 25).attr("height", 25).attr("fill", fill);
    ov.append("line").attr("x1", x).attr("x2", x + 25).attr("y1", ly).attr("y2", ly).attr("stroke", col).attr("stroke-width", 2.6);
    ov.append("line").attr("x1", x + 12.5).attr("x2", x + 12.5).attr("y1", ly - 5).attr("y2", ly + 5).attr("stroke", col).attr("stroke-width", 1.8);
  });
  T(r.leg[2], ly, "high", {size: 19});
  T(r.leg[4], ly, "low", {size: 19});
  T(27, 265 + r.top, "Overall survival", {size: 22, anchor: "middle", rotate: -90});
  T(389, 451 + r.top, "Time(months)", {size: 22, anchor: "middle"});
  T(389, 594 + r.top, "Time(months)", {size: 22, anchor: "middle"});
  T(27, 535 + r.top, r.gene + " levels", {size: 22, anchor: "middle", rotate: -90});
  T(128, 345 + r.top, r.p, {size: 27});
});

// GEPIA annotations
[{top: 0, gene: "COLEC10", tx: 1088, stats: B_stats},
 {top: 635, gene: "TGFBR3", tx: 1098, stats: E_stats},
 {top: 1270, gene: "FYN", tx: 1135.5, stats: H_stats}].forEach(r => {
  T(1043.5, 68.6 + r.top, "Disease Free Survival", {size: 27.5, anchor: "middle"});
  T(743, 306.75 + r.top, "Percent survival", {size: 25, anchor: "middle", rotate: -90});
  T(1043.5, 593 + r.top, "Months", {size: 25, anchor: "middle"});
  [[108, GP.blue, "Low "], [126.8, GP.red, "High "]].forEach(([y, col, lab]) => {
    ov.append("line").attr("x1", r.tx - 45).attr("x2", r.tx - 8).attr("y1", y + r.top).attr("y2", y + r.top).attr("stroke", col).attr("stroke-width", 3);
    T(r.tx, y + r.top, lab + r.gene + " TPM", {size: 19});
  });
  [150.7, 173.2, 196, 219.6, 242.5].forEach((y, i) => T(1261.5, y + r.top, r.stats[i], {size: 19, anchor: "end"}));
});

// boxplot annotations
[{gene: "COLEC10", lx: 1427, ly: 47, keys: [1488, 1586, 1690, 1796], labs: [1522, 1621, 1724, 1831], ty: 313, sx: 1660, sy: 575},
 {gene: "TGFBR3", lx: 1433, ly: 681, keys: [1492.5, 1591, 1694, 1802], labs: [1528, 1626, 1729, 1836], ty: 944, sx: 1665, sy: 1207.6},
 {gene: "FYN", lx: 1433, ly: 1320, keys: [1492.5, 1591, 1694, 1802], labs: [1528, 1626, 1729, 1836], ty: 1581, sx: 1665, sy: 1846}].forEach(r => {
  T(r.lx, r.ly, "stage", {size: 19, fill: "#111"});
  r.keys.forEach((x, i) => {
    const col = STAGE_COLORS[i], y = r.ly;
    ov.append("line").attr("x1", x + 10.5).attr("x2", x + 10.5).attr("y1", y - 12).attr("y2", y + 12).attr("stroke", col).attr("stroke-width", 1.6);
    ov.append("rect").attr("x", x).attr("y", y - 7.5).attr("width", 21).attr("height", 15).attr("fill", "white").attr("stroke", col).attr("stroke-width", 1.8);
    ov.append("line").attr("x1", x).attr("x2", x + 21).attr("y1", y).attr("y2", y).attr("stroke", col).attr("stroke-width", 1.8);
    ov.append("circle").attr("cx", x + 10.5).attr("cy", y).attr("r", 3).attr("fill", col);
    T(r.labs[i], y, STAGES[i], {size: 15.5, fill: "#333"});
  });
  T(1331, r.ty, r.gene + " expression", {size: 18.6, anchor: "middle", rotate: -90});
  T(r.sx, r.sy, "stage", {size: 19, anchor: "middle"});
});

fig.appendChild(ov.node());
</script></body></html>
